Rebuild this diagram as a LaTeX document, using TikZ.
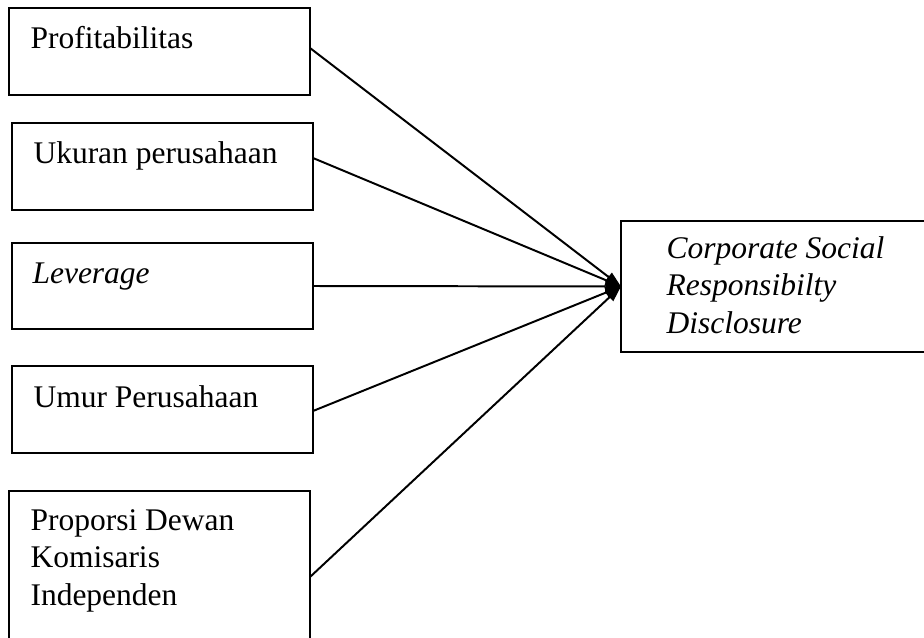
\documentclass[tikz,border=0pt]{standalone}
\usepackage{fontspec}
\setmainfont{Liberation Serif}
\usetikzlibrary{arrows.meta}

\begin{document}
\begin{tikzpicture}[%
        x=0.381pt, y=-0.381pt,
        font=\fontsize{12}{14.1}\selectfont,
        kotak/.style={draw, line width=0.75pt, anchor=north west,
            inner sep=0pt, outer sep=0pt, minimum width=114.7pt},
        teks/.style={anchor=base west, align=left, inner sep=0pt},
        panah/.style={->, line width=0.75pt},
        >={Triangle[length=6pt,width=4pt]} % ujung panah
        ]
            \useasboundingbox (0,0) rectangle (924,638);

            % Kotak variabel
            \node[kotak, minimum height=33.1pt] (b1) at (9,8) {};
            \node[kotak, minimum height=33.1pt] (b2) at (12,123) {};
            \node[kotak, minimum height=32.8pt] (b3) at (12,243) {};
            \node[kotak, minimum height=33.1pt] (b4) at (12,366) {};
            \node[kotak, minimum height=64.8pt] (b5) at (9,491) {};
            \node[kotak, minimum width=125.7pt, minimum height=49.9pt] (csr) at (621,221) {};

            % Teks (base = baris terakhir)
            \node[teks] (t1) at ([shift={(21,40)}]b1.north west) {Profitabilitas};
            \node[teks] (t2) at ([shift={(21,40)}]b2.north west) {Ukuran perusahaan};
            \node[teks] (t3) at ([shift={(20,40)}]b3.north west) {\itshape Leverage};
            \node[teks] (t4) at ([shift={(21,41)}]b4.north west) {Umur Perusahaan};
            \node[teks] (t5) at ([shift={(21,114)}]b5.north west)
                {Proporsi Dewan\\Komisaris\\Independen};
            \node[teks] (t6) at ([shift={(45,112)}]csr.north west)
                {\itshape Corporate Social\\\itshape Responsibilty\\\itshape Disclosure};

            % Titik awal panah
            \coordinate (s1) at (310,48);
            \coordinate (s2) at (313,158);
            \coordinate (s3) at (313,286);
            \coordinate (s4) at (313,411);
            \coordinate (s5) at (310,577);

            % Panah
            \foreach \i in {1,...,5}
                \draw[panah] (s\i) -- (csr.west);

        \end{tikzpicture}
\end{document}
